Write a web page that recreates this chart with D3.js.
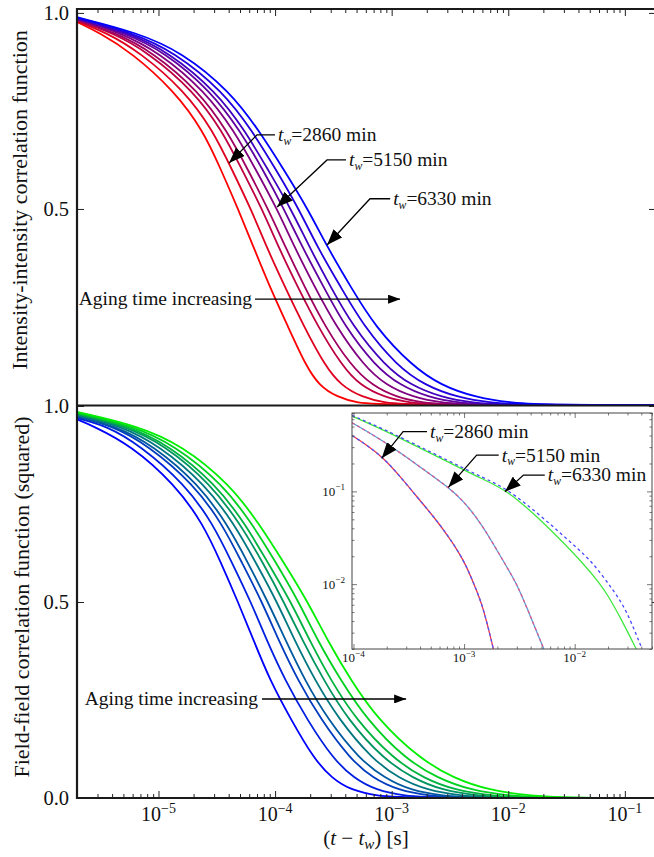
<!DOCTYPE html>
<html><head><meta charset="utf-8">
<script src="https://cdn.jsdelivr.net/npm/d3@7"></script>
<style>
body{margin:0;background:#fff}
svg{display:block}
text{font-family:"Liberation Serif","Times New Roman",serif;fill:#111}
</style>
</head><body>
<svg id="c" width="654" height="857"></svg>
<script>
// ---------------- DATA ----------------
const startTime = 2e-6;
const endTime = 0.185;
// correlation levels at which each curve's delay time was read
const levels = [0.95, 0.9, 0.8, 0.7, 0.6, 0.5, 0.4, 0.3, 0.2, 0.1, 0.05, 0.02, 0.005, 0];

// top panel: intensity-intensity correlation (9 aging times, red -> blue)
const topStart = [0.977, 0.979, 0.981, 0.982, 0.984, 0.985, 0.986, 0.988, 0.989];
const topTimes = [
  [3.09e-6, 5.81e-6, 1.38e-5, 2.41e-5, 3.44e-5, 4.81e-5, 6.59e-5, 9.04e-5, 1.29e-4, 1.84e-4, 2.38e-4, 3.40e-4, 5.14e-4, 7.94e-4],
  [3.55e-6, 6.93e-6, 1.69e-5, 2.93e-5, 4.27e-5, 6.21e-5, 8.53e-5, 1.22e-4, 1.77e-4, 2.68e-4, 3.67e-4, 5.56e-4, 8.77e-4, 1.49e-3],
  [3.99e-6, 8.13e-6, 2.01e-5, 3.51e-5, 5.20e-5, 7.73e-5, 1.08e-4, 1.57e-4, 2.33e-4, 3.75e-4, 5.35e-4, 8.59e-4, 1.44e-3, 2.59e-3],
  [4.24e-6, 8.97e-6, 2.22e-5, 3.86e-5, 5.86e-5, 8.69e-5, 1.24e-4, 1.80e-4, 2.68e-4, 4.48e-4, 6.78e-4, 1.09e-3, 1.85e-3, 3.49e-3],
  [4.68e-6, 1.01e-5, 2.51e-5, 4.44e-5, 6.85e-5, 1.04e-4, 1.48e-4, 2.20e-4, 3.33e-4, 5.78e-4, 8.93e-4, 1.52e-3, 2.70e-3, 5.28e-3],
  [5.06e-6, 1.14e-5, 2.82e-5, 5.00e-5, 7.87e-5, 1.19e-4, 1.73e-4, 2.62e-4, 3.97e-4, 7.19e-4, 1.18e-3, 2.05e-3, 3.71e-3, 7.85e-3],
  [5.47e-6, 1.23e-5, 3.11e-5, 5.52e-5, 8.69e-5, 1.37e-4, 1.99e-4, 3.01e-4, 4.66e-4, 8.77e-4, 1.46e-3, 2.65e-3, 4.89e-3, 1.05e-2],
  [5.93e-6, 1.38e-5, 3.57e-5, 6.34e-5, 1.02e-4, 1.60e-4, 2.33e-4, 3.67e-4, 5.78e-4, 1.11e-3, 1.93e-3, 3.63e-3, 6.97e-3, 1.60e-2],
  [6.55e-6, 1.59e-5, 4.10e-5, 7.28e-5, 1.19e-4, 1.91e-4, 2.84e-4, 4.48e-4, 7.19e-4, 1.49e-3, 2.65e-3, 5.18e-3, 1.04e-2, 2.51e-2]
];

// bottom panel: field-field correlation squared (9 aging times, blue -> green)
const botStart = [0.966, 0.969, 0.972, 0.974, 0.977, 0.979, 0.981, 0.983, 0.985];
const botTimes = [
  [2.7e-6, 5.81e-6, 1.38e-5, 2.41e-5, 3.44e-5, 4.81e-5, 6.59e-5, 9.04e-5, 1.37e-4, 2.15e-4, 3.08e-4, 4.48e-4, 7.63e-4, 1.23e-3],
  [3.55e-6, 6.93e-6, 1.69e-5, 2.93e-5, 4.27e-5, 6.21e-5, 8.53e-5, 1.22e-4, 1.88e-4, 3.14e-4, 4.75e-4, 7.33e-4, 1.30e-3, 2.30e-3],
  [3.99e-6, 8.13e-6, 2.01e-5, 3.51e-5, 5.20e-5, 7.73e-5, 1.08e-4, 1.57e-4, 2.47e-4, 4.39e-4, 6.92e-4, 1.13e-3, 2.14e-3, 4.00e-3],
  [4.24e-6, 8.97e-6, 2.22e-5, 3.86e-5, 5.86e-5, 8.69e-5, 1.24e-4, 1.80e-4, 2.84e-4, 5.25e-4, 8.77e-4, 1.44e-3, 2.75e-3, 5.39e-3],
  [4.68e-6, 1.01e-5, 2.51e-5, 4.44e-5, 6.85e-5, 1.04e-4, 1.48e-4, 2.20e-4, 3.53e-4, 6.77e-4, 1.15e-3, 2.00e-3, 4.01e-3, 8.15e-3],
  [5.06e-6, 1.14e-5, 2.82e-5, 5.00e-5, 7.87e-5, 1.19e-4, 1.73e-4, 2.62e-4, 4.21e-4, 8.42e-4, 1.53e-3, 2.70e-3, 5.51e-3, 1.21e-2],
  [5.47e-6, 1.23e-5, 3.11e-5, 5.52e-5, 8.69e-5, 1.37e-4, 1.99e-4, 3.01e-4, 4.94e-4, 1.03e-3, 1.89e-3, 3.49e-3, 7.26e-3, 1.62e-2],
  [5.93e-6, 1.38e-5, 3.57e-5, 6.34e-5, 1.02e-4, 1.60e-4, 2.33e-4, 3.67e-4, 6.13e-4, 1.30e-3, 2.50e-3, 4.78e-3, 1.03e-2, 2.47e-2],
  [6.55e-6, 1.59e-5, 4.10e-5, 7.28e-5, 1.19e-4, 1.91e-4, 2.84e-4, 4.48e-4, 7.63e-4, 1.74e-3, 3.43e-3, 6.83e-3, 1.54e-2, 3.88e-2]
];

// inset (log-log), three aging times
const insetT1 = [9.7e-5, 1.3e-4, 1.87e-4, 2.64e-4, 3.73e-4, 5.27e-4, 7.2e-4, 1.0e-3, 1.23e-3, 1.49e-3, 1.84e-3];
const insetV1 = [0.40, 0.32, 0.23, 0.145, 0.088, 0.054, 0.033, 0.018, 0.01, 0.0057, 0.002];
const insetT2 = [9.7e-5, 1.87e-4, 3.73e-4, 7.3e-4, 1.0e-3, 1.3e-3, 1.6e-3, 2.42e-3, 3.0e-3, 3.67e-3, 5.26e-3];
const insetV2 = [0.55, 0.35, 0.195, 0.11, 0.077, 0.052, 0.036, 0.0155, 0.01, 0.0057, 0.002];
const insetT3 = [9.7e-5, 1.87e-4, 3.73e-4, 7.46e-4, 1.49e-3, 2.42e-3, 5.0e-3, 1.28e-2, 1.69e-2, 1.94e-2, 2.56e-2, 3.6e-2];
const insetV3 = [0.65, 0.46, 0.306, 0.203, 0.134, 0.104, 0.049, 0.0155, 0.01, 0.008, 0.0045, 0.002];
const insetT3d = [9.7e-5, 1.87e-4, 3.73e-4, 7.46e-4, 1.49e-3, 2.42e-3, 5.0e-3, 1.0e-2, 1.47e-2, 2.22e-2, 2.93e-2, 4.0e-2];
const insetV3d = [0.66, 0.47, 0.315, 0.21, 0.14, 0.108, 0.054, 0.026, 0.0169, 0.0087, 0.0053, 0.0021];

// tick labels
const xMajor = [1e-5, 1e-4, 1e-3, 1e-2, 1e-1];
const xMajorExp = ["−5", "−4", "−3", "−2", "−1"];
const topYTicks = [0.5, 1.0];
const botYTicks = [0.0, 0.5, 1.0];
const insetXMajor = [1e-4, 1e-3, 1e-2];
const insetXExp = ["−4", "−3", "−2"];
const insetYMajor = [1e-2, 1e-1];
const insetYExp = ["−2", "−1"];

// annotation labels
const agingLabel = "Aging time increasing";
const twLabels = ["2860", "5150", "6330"];

// ---------------- DRAW ----------------
const svg = d3.select("#c");
const L = 77, R = 656;
const x = d3.scaleLog().domain([startTime, endTime]).range([L, R]);
const yTop = d3.scaleLinear().domain([0, 1.01]).range([405, 9]);
const yBot = d3.scaleLinear().domain([0, 1]).range([798, 406]);

const defs = svg.append("defs");
defs.append("clipPath").attr("id", "clipTop").append("rect")
  .attr("x", L).attr("y", 9).attr("width", R - L).attr("height", 396);
defs.append("clipPath").attr("id", "clipBot").append("rect")
  .attr("x", L).attr("y", 405).attr("width", R - L).attr("height", 393.5);
function marker(id, w, h) {
  defs.append("marker").attr("id", id).attr("viewBox", "0 0 10 10")
    .attr("refX", 10).attr("refY", 5).attr("markerWidth", w).attr("markerHeight", h)
    .attr("markerUnits", "userSpaceOnUse").attr("orient", "auto")
    .attr("preserveAspectRatio", "none")
    .append("path").attr("d", "M0,0 L10,5 L0,10 Z").attr("fill", "#000");
}
marker("ahBig", 16, 12);
marker("ahSmall", 12, 9);

function series(start, times, i) {
  const pts = [[startTime, start[i]]];
  levels.forEach((v, j) => pts.push([times[i][j], v]));
  pts.push([endTime, 0]);
  return pts;
}

const topColor = d3.interpolateRgb("#ff0000", "#0000ff");
const botColor = d3.interpolateRgb("#0000ff", "#00ee00");

const smooth = d3.curveBasis;
const lineTop = d3.line().x(d => x(d[0])).y(d => yTop(d[1])).curve(smooth);
const lineBot = d3.line().x(d => x(d[0])).y(d => yBot(d[1])).curve(smooth);

const gTop = svg.append("g").attr("clip-path", "url(#clipTop)");
topTimes.forEach((t, i) => {
  gTop.append("path").attr("d", lineTop(series(topStart, topTimes, i)))
    .attr("fill", "none").attr("stroke", topColor(i / 8)).attr("stroke-width", 1.8);
});
const gBot = svg.append("g").attr("clip-path", "url(#clipBot)");
botTimes.forEach((t, i) => {
  gBot.append("path").attr("d", lineBot(series(botStart, botTimes, i)))
    .attr("fill", "none").attr("stroke", botColor(i / 8)).attr("stroke-width", 1.8);
});

// minor ticks from the scale
const isMinor = v => Math.abs(v / Math.pow(10, Math.floor(Math.log10(v) + 1e-9)) - 1) > 1e-6;
const xMinor = x.ticks().filter(isMinor);

function tickAxis(axis, tx, ty) {
  const g = svg.append("g").attr("transform", `translate(${tx},${ty})`).call(axis);
  g.select(".domain").remove();
  g.selectAll("line").attr("stroke", "#222").attr("stroke-width", 1);
  g.selectAll("text").remove();
  return g;
}
tickAxis(d3.axisBottom(x).tickValues(xMajor).tickSize(7), 0, 9);
tickAxis(d3.axisBottom(x).tickValues(xMinor).tickSize(4), 0, 9);
tickAxis(d3.axisTop(x).tickValues(xMajor).tickSize(7), 0, 798);
tickAxis(d3.axisTop(x).tickValues(xMinor).tickSize(4), 0, 798);
tickAxis(d3.axisRight(yTop).tickValues(topYTicks).tickSize(7), L, 0);
tickAxis(d3.axisLeft(yTop).tickValues(topYTicks).tickSize(7), R, 0);
tickAxis(d3.axisRight(yBot).tickValues(botYTicks).tickSize(7), L, 0);
tickAxis(d3.axisLeft(yBot).tickValues(botYTicks).tickSize(7), R, 0);

// spines
const sp = svg.append("g").attr("stroke", "#1a1a1a").attr("stroke-width", 2.2).attr("fill", "none");
sp.append("line").attr("x1", L).attr("x2", L).attr("y1", 8).attr("y2", 799);
sp.append("line").attr("x1", L).attr("x2", R).attr("y1", yTop.range()[1]).attr("y2", yTop.range()[1]);
sp.append("line").attr("x1", L).attr("x2", R).attr("y1", 405.5).attr("y2", 405.5);
sp.append("line").attr("x1", L).attr("x2", R).attr("y1", 798).attr("y2", 798);

// y tick labels
const fmt = d3.format(".1f");
topYTicks.forEach(v => svg.append("text").attr("x", 69).attr("y", yTop(v)).attr("dy", "0.35em")
  .attr("text-anchor", "end").attr("font-size", 20.5).text(fmt(v)));
botYTicks.forEach(v => svg.append("text").attr("x", 69).attr("y", yBot(v)).attr("dy", "0.35em")
  .attr("text-anchor", "end").attr("font-size", 20.5).text(fmt(v)));

// x tick labels (powers of ten)
function pow10(g, px, py, exp, size, anchor) {
  const t = g.append("text").attr("x", px).attr("y", py).attr("text-anchor", anchor || "middle")
    .attr("font-size", size);
  t.append("tspan").text("10");
  t.append("tspan").attr("dy", -size * 0.42).attr("font-size", size * 0.7).text(exp);
  return t;
}
xMajor.forEach((v, i) => pow10(svg, x(v), 821, xMajorExp[i], 20));

// axis titles
const xt = svg.append("text").attr("x", 366).attr("y", 845).attr("text-anchor", "middle").attr("font-size", 21);
xt.append("tspan").text("(");
xt.append("tspan").attr("font-style", "italic").text("t");
xt.append("tspan").text(" − ");
xt.append("tspan").attr("font-style", "italic").text("t");
xt.append("tspan").attr("font-style", "italic").attr("font-size", 15).attr("dy", 4).text("w");
xt.append("tspan").attr("dy", -4).text(") [s]");

svg.append("text").attr("transform", "translate(27,200) rotate(-90)").attr("text-anchor", "middle")
  .attr("font-size", 22).text("Intensity-intensity correlation function");
svg.append("text").attr("transform", "translate(29,597) rotate(-90)").attr("text-anchor", "middle")
  .attr("font-size", 22).text("Field-field correlation function (squared)");

// tw annotation helper
function twText(g, px, py, label, size) {
  const t = g.append("text").attr("x", px).attr("y", py + size * 0.33).attr("font-size", size);
  t.append("tspan").attr("font-style", "italic").text("t");
  t.append("tspan").attr("font-style", "italic").attr("font-size", size * 0.6).attr("dy", 3.5).text("w");
  t.append("tspan").attr("dy", -3.5).text("=" + label + " min");
}
function annotate(g, xs, ys, text, elbow, tip, label, size) {
  const tx = xs(text[0]), ty = ys(text[1]);
  twText(g, tx, ty, label, size);
  g.append("path")
    .attr("d", d3.line()([[tx - 3, ty], [xs(elbow[0]), ys(elbow[1])], [xs(tip[0]), ys(tip[1])]]))
    .attr("fill", "none").attr("stroke", "#000").attr("stroke-width", 1.3)
    .attr("marker-end", "url(#ahBig)");
}
const gAnn = svg.append("g");
annotate(gAnn, x, yTop, [1.06e-4, 0.689], [7.0e-5, 0.689], [4.03e-5, 0.617], twLabels[0], 19.5);
annotate(gAnn, x, yTop, [4.31e-4, 0.625], [2.79e-4, 0.625], [1.04e-4, 0.505], twLabels[1], 19.5);
annotate(gAnn, x, yTop, [1.03e-3, 0.526], [6.52e-4, 0.526], [2.79e-4, 0.408], twLabels[2], 19.5);

function aging(xs, ys, textEnd, lineStart, tip, v) {
  svg.append("text").attr("x", xs(textEnd)).attr("y", ys(v)).attr("dy", "0.32em")
    .attr("text-anchor", "end").attr("font-size", 19.5).text(agingLabel);
  svg.append("line").attr("x1", xs(lineStart)).attr("x2", xs(tip)).attr("y1", ys(v)).attr("y2", ys(v))
    .attr("stroke", "#000").attr("stroke-width", 1.3).attr("marker-end", "url(#ahSmall)");
}
aging(x, yTop, 6.34e-5, 6.73e-5, 1.18e-3, 0.270);
aging(x, yBot, 7.13e-5, 7.73e-5, 1.33e-3, 0.2526);

// ---------------- INSET ----------------
const xi = d3.scaleLog().domain([9.7e-5, 0.05]).range([352, 652]);
const yi = d3.scaleLog().domain([0.002, 0.7]).range([649, 413]);
defs.append("clipPath").attr("id", "clipIn").append("rect")
  .attr("x", 352).attr("y", 413).attr("width", 300).attr("height", 236);
svg.append("rect").attr("x", 352).attr("y", 413).attr("width", 300).attr("height", 236)
  .attr("fill", "#fff");
const lineIn = d3.line().x(d => xi(d[0])).y(d => yi(d[1])).curve(smooth);
const gIn = svg.append("g").attr("clip-path", "url(#clipIn)");
const z = (T, V) => T.map((t, i) => [t, V[i]]);
const inset = [
  {pts: z(insetT1, insetV1), solid: "#e8304a", dash: "#4a5cff", dpts: z(insetT1, insetV1)},
  {pts: z(insetT2, insetV2), solid: "#5a9ad8", dash: "#e05a8a", dpts: z(insetT2, insetV2)},
  {pts: z(insetT3, insetV3), solid: "#3ee83e", dash: "#4848ff", dpts: z(insetT3d, insetV3d)}
];
inset.forEach(c => {
  gIn.append("path").attr("d", lineIn(c.pts)).attr("fill", "none").attr("stroke", c.solid).attr("stroke-width", 1.3);
  gIn.append("path").attr("d", lineIn(c.dpts)).attr("fill", "none").attr("stroke", c.dash)
    .attr("stroke-width", 1.3).attr("stroke-dasharray", "3,3");
});
const xiMinor = xi.ticks().filter(isMinor);
const yiMinor = yi.ticks().filter(isMinor);
function itick(axis, tx, ty) {
  const g = svg.append("g").attr("transform", `translate(${tx},${ty})`).call(axis);
  g.select(".domain").remove();
  g.selectAll("line").attr("stroke", "#555").attr("stroke-width", 0.8);
  g.selectAll("text").remove();
}
itick(d3.axisTop(xi).tickValues(insetXMajor).tickSize(5), 0, 649);
itick(d3.axisTop(xi).tickValues(xiMinor).tickSize(2.5), 0, 649);
itick(d3.axisBottom(xi).tickValues(insetXMajor).tickSize(5), 0, 413);
itick(d3.axisBottom(xi).tickValues(xiMinor).tickSize(2.5), 0, 413);
itick(d3.axisRight(yi).tickValues(insetYMajor).tickSize(5), 352, 0);
itick(d3.axisRight(yi).tickValues(yiMinor).tickSize(2.5), 352, 0);
itick(d3.axisLeft(yi).tickValues(insetYMajor).tickSize(5), 652, 0);
itick(d3.axisLeft(yi).tickValues(yiMinor).tickSize(2.5), 652, 0);
svg.append("rect").attr("x", 352).attr("y", 413).attr("width", 300).attr("height", 236)
  .attr("fill", "none").attr("stroke", "#444").attr("stroke-width", 1);
insetXMajor.forEach((v, i) => pow10(svg, xi(v), 662, insetXExp[i], 13));
insetYMajor.forEach((v, i) => pow10(svg, 345, yi(v) + 4.5, insetYExp[i], 13, "end"));

const gAnnIn = svg.append("g");
annotate(gAnnIn, xi, yi, [4.92e-4, 0.44], [2.81e-4, 0.44], [1.80e-4, 0.227], twLabels[0], 19.5);
annotate(gAnnIn, xi, yi, [2.19e-3, 0.246], [1.30e-3, 0.246], [7.21e-4, 0.1105], twLabels[1], 19.5);
annotate(gAnnIn, xi, yi, [5.71e-3, 0.15], [3.44e-3, 0.15], [2.34e-3, 0.099], twLabels[2], 19.5);
</script>
</body></html>
